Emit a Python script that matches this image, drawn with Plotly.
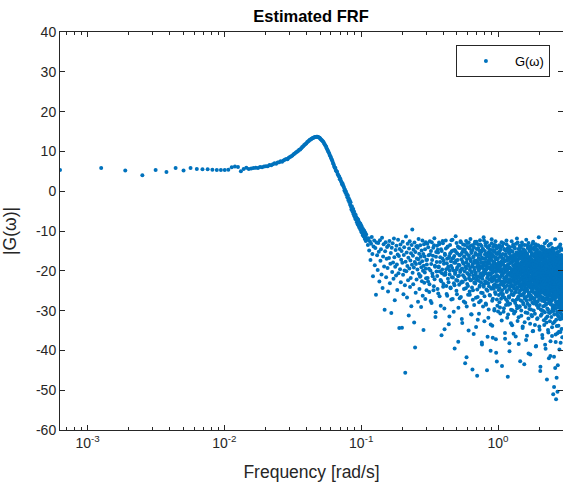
import numpy as np
import plotly.graph_objects as go

# Frequency resolution of the estimate (N = 10000 samples)
D_OMEGA = 2 * np.pi / 10000

# |G| in dB for k = 1..175 (low-frequency and resonance region)
smooth_db = [
    5.3, 5.8, 5.2, 4.0, 5.3, 4.8, 5.8, 5.2, 5.8, 5.6,
    5.5, 5.5, 5.4, 5.3, 5.3, 5.3, 5.4, 6.0, 6.2, 6.1,
    5.0, 5.6, 5.9, 5.6, 5.7, 5.8, 5.9, 5.8, 6.1, 6.0,
    6.2, 6.3, 6.3, 6.6, 6.5, 6.8, 7.0, 6.9, 7.2, 7.3,
    7.5, 7.4, 7.7, 7.9, 8.1, 8.0, 8.4, 8.6, 8.8, 9.0,
    9.3, 9.5, 9.7, 9.9, 10.1, 10.4, 10.5, 10.8, 11.1, 11.3,
    11.6, 11.8, 12.0, 12.3, 12.5, 12.7, 12.9, 13.0, 13.2, 13.3,
    13.4, 13.5, 13.6, 13.6, 13.7, 13.7, 13.6, 13.5, 13.4, 13.2,
    13.0, 12.8, 12.6, 12.4, 12.1, 11.8, 11.5, 11.2, 10.8, 10.4,
    10.1, 9.8, 9.4, 9.0, 8.7, 8.3, 7.9, 7.6, 7.1, 6.8,
    6.2, 5.9, 5.8, 5.2, 5.0, 4.9, 4.3, 4.1, 3.8, 3.6,
    3.0, 3.1, 2.6, 2.3, 1.8, 2.0, 1.5, 1.3, 0.9, 0.2,
    0.4, -0.3, -0.1, -0.9, -0.7, -1.5, -1.1, -2.2, -1.8, -2.7,
    -2.3, -3.4, -2.8, -3.9, -4.6, -3.8, -4.9, -5.2, -4.5, -5.8,
    -5.1, -6.3, -5.7, -6.9, -6.0, -7.2, -6.6, -7.8, -6.9, -8.3,
    -7.1, -8.6, -7.7, -9.1, -8.0, -9.4, -8.2, -9.8, -8.6, -10.3,
    -9.0, -10.1, -11.0, -9.5, -10.6, -11.4, -9.9, -10.8, -12.0, -10.4,
    -11.6, -12.5, -10.9, -11.8, -12.2,
]

# Noise cloud, band A: k = 176, 178, ... (omega 0.11 - 0.30)
BAND_A_K0, BAND_A_STEP = 176, 2
band_a_db = [
    -12.1, -13.5, -11.8, -14.9, -12.6, -17.3, -13.2, -11.5, -15.8, -21.4, -13.9, -12.4, -18.6, -14.3, -26.0, -12.9, -16.1, -19.8, -13.0, -15.2,
    -22.7, -12.3, -17.5, -14.6, -20.9, -11.7, -24.3, -16.4, -13.3, -18.9, -29.8, -15.1, -12.8, -21.6, -17.0, -14.0, -19.3, -25.2, -13.6, -16.8,
    -12.5, -23.1, -18.2, -15.5, -30.6, -14.2, -20.3, -13.1, -17.9, -22.0, -11.9, -16.6, -27.4, -19.0, -14.8, -21.2, -13.7, -18.4, -24.8, -15.9,
    -12.2, -20.6, -16.3, -34.4, -14.5, -19.6, -13.4, -22.9, -17.2, -15.0, -34.3, -18.0, -12.7, -21.0, -25.9, -16.0, -14.1, -19.9, -23.6, -45.6,
    -17.7, -11.4, -20.1, -15.4, -26.7, -18.8, -13.2, -22.4, -16.7, -31.2, -14.4, -19.4, -12.6, -24.1, -17.4, -21.8, -15.6, -28.9, -13.5, -18.5,
    -9.6, -20.5, -16.2, -23.4, -14.7, -19.2, -33.0, -12.9, -17.8, -39.3, -15.3, -25.5, -18.3, -13.9, -22.2, -16.9, -13.8, -19.7, -14.2, -27.8,
    -17.1, -12.0, -20.8, -15.7, -24.6, -18.1, -21.5, -13.6, -21.3, -16.5, -29.1, -19.1, -14.9, -22.6, -17.6, -12.4, -26.3, -20.0, -15.8, -34.9,
    -18.7, -13.3, -23.0, -16.4, -20.4, -14.6, -27.1, -19.5, -12.8, -21.9, -17.3, -24.9,
]

# Noise cloud, band B: k = 480, 485, ... (omega 0.30 - 1.0)
BAND_B_K0, BAND_B_STEP = 480, 5
band_b_db = [
    -18.4, -13.2, -22.7, -16.1, -25.3, -12.6, -19.9, -15.0, -28.1, -17.3, -21.4, -14.2, -23.9, -11.8, -18.7, -31.6, -16.5, -20.2, -13.7, -24.6,
    -15.4, -19.1, -12.9, -26.4, -17.8, -22.3, -14.6, -36.2, -20.6, -16.9, -13.1, -23.3, -18.2, -29.5, -15.7, -21.0, -12.4, -19.6, -25.8, -17.0,
    -14.0, -22.0, -18.9, -33.4, -16.3, -20.9, -13.5, -24.2, -17.6, -27.2, -15.1, -19.3, -12.2, -21.7, -16.7, -30.3, -18.0, -23.6, -14.8, -20.4,
    -11.3, -17.4, -25.0, -19.7, -15.6, -22.5, -13.9, -37.8, -18.5, -21.2, -16.0, -26.9, -14.3, -20.0, -12.8, -23.0, -17.1, -32.1, -19.4, -15.2,
    -22.8, -13.4, -18.1, -27.7, -16.4, -21.6, -14.7, -43.2, -19.0, -24.4, -12.5, -17.9, -29.0, -15.8, -20.7, -13.0, -23.8, -18.6, -35.0, -16.2,
    -21.1, -14.4, -26.0, -19.2, -12.0, -17.2, -22.4, -15.5, -31.0, -20.3, -13.6, -44.8, -18.3, -24.9, -16.6, -21.9, -14.1, -28.6, -19.8, -17.5,
    -12.7, -23.2, -15.9, -20.5, -34.1, -18.0, -14.5, -22.1, -46.4, -17.7, -26.6, -13.3, -19.5, -21.5, -16.8, -30.8, -14.9, -24.0, -18.8, -12.3,
    -20.8, -16.0, -27.5, -22.9, -15.3, -19.0, -13.8, -38.5, -17.0, -21.3, -25.6, -14.6, -18.4, -23.5, -11.6, -20.1, -16.9, -32.7, -19.6, -15.0,
    -22.6, -17.8, -13.1, -28.2, -20.6, -15.7, -24.7, -18.9, -12.9, -21.8, -16.4, -36.6, -19.3, -14.2, -23.1, -17.5, -29.7, -20.9, -15.6, -22.2,
    -13.7, -18.2, -26.2, -16.1, -21.0, -40.1, -14.8, -19.8, -24.5, -17.2, -12.1, -22.7, -15.9, -33.8, -20.4, -18.6, -27.0, -14.0, -21.7, -16.3,
    -23.7, -19.1, -13.5, -30.0, -17.9, -22.0, -15.2, -25.4, -20.2, -12.6, -18.3, -37.2, -16.7, -21.4, -14.4, -24.1, -42.8, -19.7, -17.1, -28.8,
    -15.8, -22.5, -13.9, -20.0,
]

# Noise cloud, band B (interleaved): k = 482, 487, ...
BAND_B2_K0, BAND_B2_STEP = 482, 5
band_b2_db = [
    -17.2, -21.8, -14.1, -19.5, -23.4, -15.9, -27.6, -18.3, -12.8, -20.7, -16.2, -24.9, -13.6, -22.1, -19.0, -30.4, -15.3, -17.8, -21.3, -14.7,
    -25.7, -18.9, -13.3, -20.2, -16.6, -28.8, -22.6, -15.0, -19.7, -12.5, -24.0, -17.5, -21.0, -34.7, -16.0, -20.5, -14.4, -23.8, -18.1, -26.3,
    -13.9, -19.3, -22.9, -16.8, -31.5, -20.0, -15.6, -24.4, -18.7, -12.3, -21.6, -17.0, -27.1, -14.9, -19.9, -23.1, -16.3, -39.5, -20.8, -18.0,
    -15.2, -22.3, -13.0, -25.9, -19.1, -17.3, -21.4, -29.3, -14.2, -23.5, -18.6, -16.1, -20.3, -12.6, -26.6, -19.6, -15.7, -22.7, -33.1, -17.7,
    -21.1, -14.6, -18.2, -24.6, -16.5, -20.1, -13.5, -28.0, -22.2, -15.4, -19.4, -41.7, -17.1, -23.3, -14.0, -20.6, -26.0, -18.4, -12.9, -21.9,
    -16.9, -25.2, -19.8, -13.8, -22.4, -17.6, -30.9, -15.1, -20.4, -24.2, -18.8, -14.8, -27.3, -21.2, -16.4, -35.9, -19.2, -23.0, -13.2, -18.0,
    -22.8, -15.5, -20.9, -26.8, -17.4, -12.7, -21.5, -19.0, -24.7, -16.0, -32.3, -18.5, -14.3, -22.5, -20.0, -27.9, -15.8, -19.5, -23.7, -17.2,
    -13.4, -21.7, -18.0, -25.5, -15.0, -20.7, -38.0, -16.7, -22.0, -19.3, -14.5, -29.0, -17.9, -21.0, -24.0, -12.4, -18.6, -26.4, -20.2, -15.9,
    -23.2, -17.0, -20.5, -13.7, -28.5, -19.7, -16.2, -22.9, -45.0, -18.3, -25.0, -14.1, -21.3, -17.6, -31.8, -19.1, -15.3, -23.9, -20.6, -16.8,
    -26.1, -14.7, -19.4, -22.1, -17.3, -33.5, -20.8, -15.6, -24.3, -18.9, -13.1, -21.6, -27.5, -16.4, -19.8, -36.8, -22.4, -17.7, -14.9, -20.0,
    -24.5, -18.1, -15.2, -29.6, -21.4, -16.6, -23.4, -19.2, -13.6, -25.8, -17.1, -20.3, -40.6, -22.6, -15.7, -18.7, -27.2, -21.1, -14.2, -19.6,
    -23.6, -16.9, -30.2, -18.4,
]

# Noise cloud, band C: k = 1600, 1606, ... (omega 1.0 - 3.0)
BAND_C_K0, BAND_C_STEP = 1600, 6
band_c_db = [
    -19.2, -24.8, -15.3, -21.7, -13.6, -27.9, -18.1, -22.5, -16.4, -30.7, -20.3, -14.2, -25.6, -17.7, -23.1, -12.8, -19.9, -43.9, -16.9, -21.2,
    -26.3, -15.8, -20.6, -18.5, -13.1, -23.7, -29.4, -17.2, -21.9, -14.7, -24.3, -19.0, -37.1, -16.1, -22.8, -20.0, -15.0, -27.2, -18.8, -12.4,
    -21.5, -25.1, -17.5, -31.8, -19.6, -14.4, -46.6, -16.7, -20.8, -28.5, -13.9, -22.2, -18.3, -26.8, -15.6, -40.2, -20.5, -17.0, -24.0, -19.4,
    -14.9, -22.9, -18.0, -33.2, -16.3, -21.0, -25.9, -12.6, -19.7, -23.6, -17.8, -29.9, -15.2, -21.6, -20.1, -26.1, -13.4, -18.6, -35.8, -22.4,
    -16.6, -24.5, -19.3, -14.0, -27.6, -21.3, -17.4, -23.0, -30.2, -15.9, -20.7, -18.2, -25.3, -13.2, -22.0, -16.0, -28.8, -19.8, -11.9, -24.2,
    -20.4, -15.5, -32.6, -18.7, -22.6, -17.1, -26.5, -14.5, -21.1, -38.4, -19.5, -23.9, -16.5, -20.9, -29.1, -13.7, -18.4, -25.0, -22.3, -15.1,
    -27.4, -19.1, -14.1, -23.3, -17.9, -21.8, -31.3, -16.2, -24.7, -20.2, -12.9, -18.9, -26.0, -22.1, -15.7, -34.0, -19.6, -17.3, -21.4, -28.1,
    -14.6, -23.8, -18.1, -20.6, -25.7, -16.8, -43.5, -22.7, -19.2, -13.5, -27.0, -17.6, -21.7, -24.4, -15.4, -30.5, -20.0, -18.5, -23.2, -16.4,
    -12.2, -26.6, -19.4, -22.0, -17.0, -36.3, -21.0, -15.8, -24.9, -18.3, -28.3, -14.3, -20.8, -23.5, -16.9, -19.9, -32.0, -13.0, -25.5, -21.5,
    -17.7, -22.8, -15.0, -29.6, -19.0, -24.1, -16.6, -20.3, -27.3, -14.8, -41.0, -21.9, -18.6, -23.0, -13.8, -26.2, -19.7, -17.2, -31.1, -22.5,
    -16.0, -20.1, -25.2, -14.4, -22.2, -18.0, -28.0, -15.9, -21.2, -35.2, -19.3, -24.6, -12.7, -20.7, -17.4, -23.7, -16.3, -30.0, -21.6, -18.8,
    -24.0, -14.1, -19.5, -26.9, -22.4, -17.5, -20.5, -33.6, -15.6, -23.1, -18.2, -21.1, -27.8, -13.3, -19.1, -25.4, -16.7, -38.9, -22.0, -20.0,
    -15.2, -28.6, -18.4, -23.6, -17.1, -21.3, -14.7, -26.4, -20.9, -31.9, -16.2, -24.3, -19.0, -22.6, -13.6, -29.3, -18.0, -21.7, -25.8, -17.8,
    -11.6, -22.9, -20.2, -27.1, -16.5, -24.8, -19.6, -34.8, -15.3, -21.4, -18.7, -26.3, -23.3, -14.2, -20.4, -44.1, -17.3, -22.1, -29.7, -19.2,
    -16.1, -25.0, -21.8, -13.9, -23.9, -18.5, -30.9, -20.6, -15.5, -27.5, -22.7, -17.0, -19.8, -24.5, -36.9, -14.6, -21.0, -26.7, -18.1, -23.4,
    -20.0, -16.8, -28.9, -22.3, -14.0, -25.6, -19.4, -32.4, -17.6, -21.5, -24.2, -15.1, -20.8, -27.7, -18.3, -23.0, -13.1, -30.4, -21.9, -17.2,
    -25.3, -19.7, -15.7, -22.8, -39.6, -20.3, -26.0, -17.9, -23.7, -14.9, -28.4, -21.2, -18.9, -33.0, -16.4, -24.7, -20.1, -12.5, -22.5, -27.2,
    -18.6, -21.6, -31.5, -16.0, -24.0, -19.3, -26.6, -15.4, -22.2, -29.8, -20.7, -17.5, -35.5, -23.2, -13.7, -21.3, -25.9, -18.2, -42.0, -19.9,
    -23.5, -16.6, -27.6, -20.5, -14.8, -24.9, -22.0, -18.0, -30.6, -21.1, -15.8, -26.1, -19.5, -23.8, -17.7, -37.7, -20.9, -28.2, -16.2, -22.9,
    -13.2, -25.1, -19.0, -21.7, -31.6, -17.1, -24.4, -20.2, -27.0, -15.2, -22.6, -18.4, -34.2, -21.0, -26.4, -14.3, -23.1, -19.7, -29.0, -17.4,
    -21.8, -24.6, -16.9, -28.7, -20.4, -51.0, -22.4, -18.7, -25.7, -15.9, -30.1, -19.2, -23.6, -17.8, -41.6, -21.4, -26.8, -14.5, -20.0, -24.1,
    -18.1, -32.8, -22.1, -16.3, -27.3, -20.6, -25.0, -12.1, -23.3, -19.4, -29.5, -17.0, -21.2, -36.0, -24.8, -15.6, -22.8, -18.9, -52.3, -26.2,
    -20.3, -14.4, -23.9, -28.1, -17.6, -21.6, -33.9, -19.1, -25.4, -16.7, -22.2, -30.3, -18.5, -24.3, -20.8, -50.4, -27.9, -15.3, -21.9, -43.7,
    -19.8, -25.5, -17.2, -23.0, -31.4, -20.1, -16.1, -26.5, -22.7, -18.3, -28.5, -14.0, -24.5, -21.1, -35.3, -19.6, -23.7, -17.9, -27.4, -20.7,
    -22.3, -15.0, -29.2, -18.8, -24.0, -21.5, -32.2, -16.5, -25.8, -19.3, -13.4, -23.4, -27.7, -20.4, -38.1, -17.3, -22.0, -26.9, -18.6, -30.8,
    -21.0, -24.2, -16.0, -28.0, -19.9, -23.5, -34.6, -17.7, -20.6, -26.3, -14.7, -22.6, -29.4, -18.2, -25.2, -21.7, -31.2, -16.8, -24.7, -19.4,
    -27.1, -22.1, -17.1, -23.8,
]

# Noise cloud, band C (interleaved): k = 1603, 1609, ...
BAND_C2_K0, BAND_C2_STEP = 1603, 6
band_c2_db = [
    -22.4, -17.9, -26.1, -20.0, -15.6, -24.3, -19.1, -29.2, -21.6, -14.8, -23.5, -18.6, -27.0, -16.3, -21.1, -32.5, -19.7, -24.9, -13.8, -22.7,
    -18.2, -25.8, -20.6, -16.9, -30.3, -23.0, -19.4, -14.5, -26.7, -21.9, -17.6, -35.6, -20.3, -24.1, -15.9, -22.2, -28.6, -18.9, -21.4, -13.3,
    -25.3, -19.9, -23.7, -16.6, -27.8, -21.0, -18.4, -31.0, -22.9, -15.2, -20.8, -26.4, -17.3, -24.6, -38.2, -19.2, -22.1, -14.1, -28.3, -20.5,
    -16.5, -23.2, -21.3, -29.8, -18.0, -25.1, -15.0, -22.5, -19.8, -33.7, -17.1, -24.0, -20.9, -27.4, -13.9, -21.8, -18.7, -26.0, -23.9, -16.0,
    -30.7, -19.5, -22.8, -17.4, -25.5, -14.4, -21.2, -28.1, -20.0, -23.4, -36.5, -16.8, -19.0, -24.7, -22.0, -15.4, -27.2, -18.1, -21.5, -29.4,
    -17.8, -24.4, -12.9, -20.7, -26.9, -19.3, -23.1, -16.2, -31.7, -21.7, -18.5, -25.6, -22.6, -14.6, -20.1, -28.9, -17.0, -23.8, -42.7, -19.6,
    -21.0, -15.7, -26.2, -22.3, -18.8, -30.0, -20.4, -24.2, -16.7, -27.6, -19.0, -13.5, -23.3, -21.9, -34.4, -17.5, -25.9, -20.2, -15.3, -22.8,
    -28.4, -18.3, -21.6, -24.8, -16.1, -20.9, -26.6, -19.4, -32.9, -22.4, -14.9, -25.2, -18.0, -23.6, -20.7, -29.1, -17.2, -21.3, -37.4, -24.5,
    -19.1, -15.8, -22.9, -27.5, -20.3, -17.7, -25.0, -13.6, -21.8, -30.6, -18.6, -23.5, -16.4, -26.3, -22.1, -19.9, -40.8, -24.0, -17.3, -21.2,
    -25.7, -14.3, -20.5, -28.7, -18.1, -23.0, -16.9, -22.2, -33.3, -19.5, -26.5, -15.1, -21.4, -24.3, -18.7, -29.7, -20.1, -17.0, -23.7, -27.1,
    -15.5, -22.0, -19.2, -31.4, -24.9, -17.6, -21.1, -26.8, -13.2, -20.6, -23.4, -18.4, -35.1, -22.5, -16.0, -25.4, -19.7, -28.2, -21.5, -14.7,
    -24.1, -20.8, -17.4, -27.3, -22.7, -19.0, -30.8, -16.6, -23.2, -21.0, -25.9, -18.2, -14.0, -22.4, -39.0, -20.0, -26.1, -17.8, -24.6, -19.3,
    -28.0, -16.3, -21.9, -23.8, -18.9, -32.1, -20.4, -15.4, -25.3, -22.3, -17.1, -27.7, -19.6, -24.4, -13.7, -21.7, -29.3, -18.0, -23.1, -20.2,
    -16.8, -26.0, -22.6, -19.4, -34.0, -24.7, -17.5, -21.2, -15.9, -28.6, -20.7, -23.6, -18.5, -45.2, -22.0, -25.6, -16.2, -19.8, -31.3, -21.4,
    -23.9, -18.1, -14.5, -26.6, -20.9, -22.8, -17.0, -29.9, -24.2, -19.1, -21.6, -36.1, -15.6, -23.0, -27.4, -18.8, -20.5, -25.1, -16.4, -22.2,
    -19.5, -30.1, -21.8, -17.7, -24.8, -14.2, -22.9, -27.0, -20.0, -18.3, -33.6, -23.5, -16.1, -21.0, -25.8, -19.2, -28.8, -22.5, -17.3, -38.6,
    -20.6, -24.3, -15.2, -22.1, -19.7, -26.9, -18.6, -31.9, -21.3, -16.7, -23.7, -28.3, -20.3, -14.8, -25.2, -22.7, -17.9, -47.3, -21.1, -24.0,
    -18.4, -29.5, -22.4, -16.0, -25.4, -20.8, -23.3, -19.0, -34.9, -17.6, -26.4, -21.5, -15.0, -24.5, -22.0, -28.1, -18.7, -20.1, -30.5, -23.6,
    -16.5, -21.9, -27.2, -19.3, -24.7, -13.4, -22.6, -18.2, -32.7, -20.7, -25.5, -17.1, -23.0, -41.4, -21.2, -19.6, -28.4, -15.7, -22.3, -26.2,
    -20.0, -17.5, -24.2, -30.2, -21.7, -18.9, -23.8, -16.3, -27.5, -22.2, -19.9, -36.4, -25.0, -17.8, -21.4, -14.6, -29.6, -23.1, -20.4, -26.7,
    -18.0, -22.7, -33.2, -20.2, -24.9, -16.9, -21.6, -28.7, -19.4, -23.5, -15.3, -26.3, -22.0, -18.5, -49.2, -20.9, -31.0, -24.1, -17.2, -21.8,
    -25.7, -19.0, -23.2, -16.4, -29.0, -21.0, -18.8, -44.4, -22.8, -26.8, -15.8, -20.5, -24.6, -37.9, -19.7, -22.4, -17.4, -27.9, -21.3, -32.3,
    -23.4, -18.3, -25.3, -20.3, -46.9, -22.1, -16.8, -28.5, -19.1, -24.0, -30.9, -21.5, -17.7, -26.0, -23.0, -35.7, -20.6, -15.5, -22.9, -27.8,
    -19.8, -24.4, -21.1, -29.3, -17.0, -23.7, -33.8, -20.0, -26.5, -18.6, -22.5, -16.2, -25.1, -31.6, -21.8, -19.3, -28.2, -23.3, -39.8, -20.8,
    -17.9, -26.9, -22.3, -24.8, -19.5, -30.4, -16.7, -23.9, -21.2, -27.3, -18.1, -35.4, -22.7, -25.4, -20.1, -14.3, -24.2, -29.8, -21.6, -18.7,
    -23.6, -28.9, -19.2, -26.6, -32.0, -21.4, -17.6, -24.5, -22.8, -30.0, -20.4, -27.6, -16.5, -25.9, -23.1, -36.7, -21.7, -19.0, -28.4, -24.9,
    -22.0, -26.4, -18.8, -31.5,
]

x_tick_vals = [1e-3, 1e-2, 1e-1, 1e0]
x_tick_text = ["10<sup>-3</sup>", "10<sup>-2</sup>", "10<sup>-1</sup>", "10<sup>0</sup>"]
y_tick_vals = [-60, -50, -40, -30, -20, -10, 0, 10, 20, 30, 40]
y_tick_text = ["-60", "-50", "-40", "-30", "-20", "-10", "0", "10", "20", "30", "40"]

# ---- assemble frequency / magnitude vectors ----
def band_k(k0, step, vals):
    return k0 + step * np.arange(len(vals))

k_all = np.concatenate([
    np.arange(1, len(smooth_db) + 1),
    band_k(BAND_A_K0, BAND_A_STEP, band_a_db),
    band_k(BAND_B_K0, BAND_B_STEP, band_b_db),
    band_k(BAND_B2_K0, BAND_B2_STEP, band_b2_db),
    band_k(BAND_C_K0, BAND_C_STEP, band_c_db),
    band_k(BAND_C2_K0, BAND_C2_STEP, band_c2_db),
])
omega = k_all * D_OMEGA
mag_db = np.concatenate([smooth_db, band_a_db, band_b_db, band_b2_db, band_c_db, band_c2_db])

BLUE = "#0072BD"
AX = "#262626"
FONT = "Liberation Sans, Arial, Helvetica, sans-serif"

W, H = 563, 486

fig = go.Figure()
fig.add_trace(go.Scatter(
    x=omega, y=mag_db, mode="markers", name="G(ω)",
    marker=dict(color=BLUE, size=4.0, line=dict(width=0)),
))

minor_vals = []
for e in [-4, -3, -2, -1, 0]:
    for m in range(2, 10):
        minor_vals.append(m * 10.0 ** e)

fig.update_layout(
    width=W, height=H,
    margin=dict(l=60, r=0, t=32, b=56, autoexpand=False),
    paper_bgcolor="white", plot_bgcolor="white",
    font=dict(family=FONT, color=AX, size=13),
    title=dict(text="<b>Estimated FRF</b>", x=311 / W, xanchor="center",
               y=1 - 16 / H, yanchor="middle", yref="container",
               font=dict(size=16.5, color="#000000")),
    showlegend=True,
    legend=dict(x=0.974, xanchor="right", y=0.967, yanchor="top",
                bordercolor=AX, borderwidth=1, bgcolor="white",
                font=dict(size=13, color="#000000"), itemwidth=48,
                tracegroupgap=0),
)
fig.update_xaxes(
    type="log", range=[np.log10(D_OMEGA), np.log10(2.985)],
    tickvals=x_tick_vals, ticktext=x_tick_text,
    ticks="inside", ticklen=5, tickcolor=AX, tickwidth=1,
    minor=dict(tickvals=minor_vals, ticks="inside", ticklen=3, tickcolor=AX),
    showline=True, linecolor=AX, linewidth=1, mirror="ticks",
    showgrid=False, zeroline=False, automargin=False,
    tickfont=dict(size=14, color=AX),
    title=dict(text="Frequency [rad/s]", font=dict(size=17.5, color=AX), standoff=15),
)
fig.update_yaxes(
    range=[-60, 40], tickvals=y_tick_vals, ticktext=y_tick_text,
    ticks="inside", ticklen=5, tickcolor=AX, tickwidth=1,
    showline=True, linecolor=AX, linewidth=1, mirror="ticks",
    showgrid=False, zeroline=False, automargin=False,
    tickfont=dict(size=14, color=AX),
    title=dict(text="|G(ω)|", font=dict(size=17.5, color=AX), standoff=18),
)

# Remove the browser's default 8 px body margin so the figure fills the window exactly
fig.write_html("out.html", config={"displayModeBar": False},
               post_script="document.body.style.margin='0';")
